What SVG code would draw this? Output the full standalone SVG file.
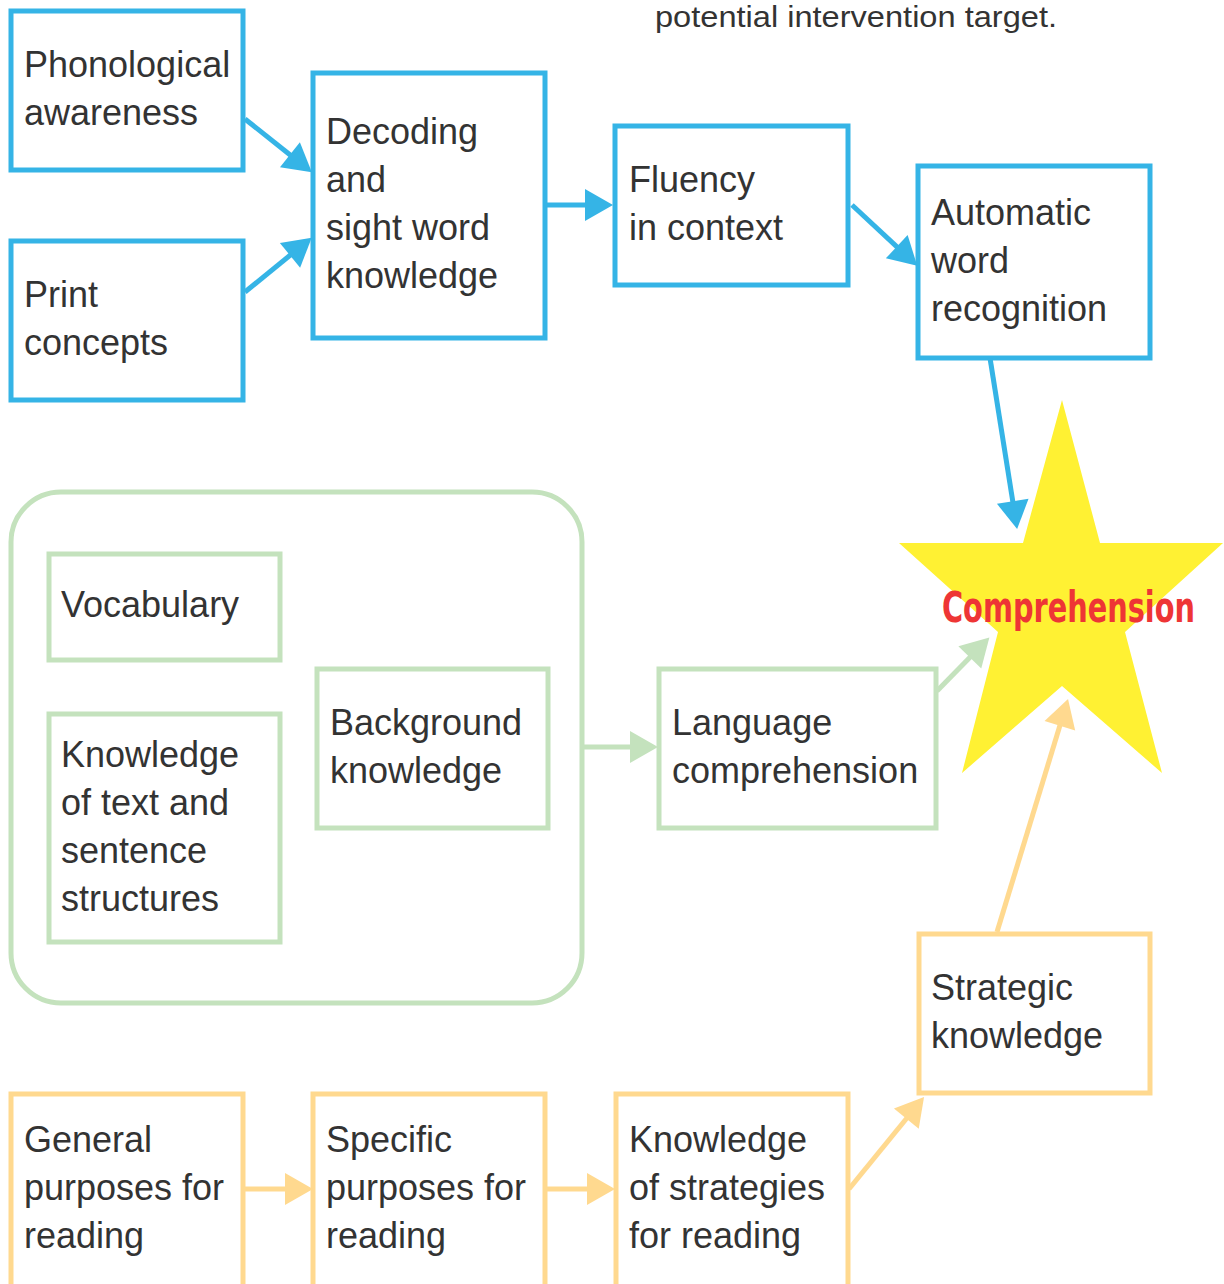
<svg xmlns="http://www.w3.org/2000/svg" width="1224" height="1284" viewBox="0 0 1224 1284">
<style>
.t{font-family:"Liberation Sans",Arial,sans-serif;font-size:36px;fill:#333333}
.b{fill:#ffffff;stroke:#35B4E6;stroke-width:5}
.g{fill:#ffffff;stroke:#C4E2BD;stroke-width:5}
.o{fill:#ffffff;stroke:#FFD98F;stroke-width:5}
.cb{stroke:#35B4E6;stroke-width:5;fill:none}
.cg{stroke:#C4E2BD;stroke-width:5;fill:none}
.co{stroke:#FFD98F;stroke-width:5;fill:none}
</style>
<defs>
<marker id="ab" markerUnits="userSpaceOnUse" markerWidth="30" markerHeight="34" refX="8" refY="16" orient="auto" overflow="visible"><path d="M0,0 L28,16 L0,32 Z" fill="#35B4E6"/></marker>
<marker id="ag" markerUnits="userSpaceOnUse" markerWidth="30" markerHeight="34" refX="8" refY="16" orient="auto" overflow="visible"><path d="M0,0 L28,16 L0,32 Z" fill="#C4E2BD"/></marker>
<marker id="ao" markerUnits="userSpaceOnUse" markerWidth="30" markerHeight="34" refX="8" refY="16" orient="auto" overflow="visible"><path d="M0,0 L28,16 L0,32 Z" fill="#FFD98F"/></marker>
</defs>
<rect width="1224" height="1284" fill="#ffffff"/>

<text id="note" x="655" y="27" style="font-family:'Liberation Sans',Arial,sans-serif;font-size:30px;fill:#333333" textLength="402" lengthAdjust="spacingAndGlyphs">potential intervention target.</text>

<g id="comprehension">
<polygon points="1062,400 1100,543 1223,543 1125,632 1162,773 1062,686 962,773 998,632 899,543 1023,543" fill="#FFF133"/>
<text x="942" y="622" style="font-family:'Liberation Sans Narrow','DejaVu Sans Condensed','Liberation Sans',sans-serif;font-size:42px;font-weight:bold;fill:#EE3535" textLength="253" lengthAdjust="spacingAndGlyphs">Comprehension</text>
</g>

<g id="group-language">
<rect x="11" y="492" width="571" height="511" rx="50" ry="50" fill="none" stroke="#C4E2BD" stroke-width="5"/>
</g>

<g id="phonological"><rect class="b" x="11" y="11" width="232" height="159"/><text class="t" x="24"><tspan x="24" y="77">Phonological</tspan><tspan x="24" y="125">awareness</tspan></text></g>
<g id="print"><rect class="b" x="11" y="241" width="232" height="159"/><text class="t"><tspan x="24" y="307">Print</tspan><tspan x="24" y="355">concepts</tspan></text></g>
<g id="decoding"><rect class="b" x="313" y="73" width="232" height="265"/><text class="t"><tspan x="326" y="144">Decoding</tspan><tspan x="326" y="192">and</tspan><tspan x="326" y="240">sight word</tspan><tspan x="326" y="288">knowledge</tspan></text></g>
<g id="fluency"><rect class="b" x="615" y="126" width="233" height="159"/><text class="t"><tspan x="629" y="192">Fluency</tspan><tspan x="629" y="240">in context</tspan></text></g>
<g id="automatic"><rect class="b" x="918" y="166" width="232" height="192"/><text class="t"><tspan x="931" y="225">Automatic</tspan><tspan x="931" y="273">word</tspan><tspan x="931" y="321">recognition</tspan></text></g>

<g id="vocabulary"><rect class="g" x="49" y="554" width="231" height="106"/><text class="t"><tspan x="61" y="617">Vocabulary</tspan></text></g>
<g id="text-structures"><rect class="g" x="49" y="714" width="231" height="228"/><text class="t"><tspan x="61" y="767">Knowledge</tspan><tspan x="61" y="815">of text and</tspan><tspan x="61" y="863">sentence</tspan><tspan x="61" y="911">structures</tspan></text></g>
<g id="background"><rect class="g" x="317" y="669" width="231" height="159"/><text class="t"><tspan x="330" y="735">Background</tspan><tspan x="330" y="783">knowledge</tspan></text></g>
<g id="language"><rect class="g" x="659" y="669" width="277" height="159"/><text class="t"><tspan x="672" y="735">Language</tspan><tspan x="672" y="783">comprehension</tspan></text></g>

<g id="strategic"><rect class="o" x="919" y="934" width="231" height="159"/><text class="t"><tspan x="931" y="1000">Strategic</tspan><tspan x="931" y="1048">knowledge</tspan></text></g>
<g id="general"><rect class="o" x="11" y="1094" width="232" height="200"/><text class="t"><tspan x="24" y="1152">General</tspan><tspan x="24" y="1200">purposes for</tspan><tspan x="24" y="1248">reading</tspan></text></g>
<g id="specific"><rect class="o" x="313" y="1094" width="232" height="200"/><text class="t"><tspan x="326" y="1152">Specific</tspan><tspan x="326" y="1200">purposes for</tspan><tspan x="326" y="1248">reading</tspan></text></g>
<g id="strategies"><rect class="o" x="616" y="1094" width="232" height="200"/><text class="t"><tspan x="629" y="1152">Knowledge</tspan><tspan x="629" y="1200">of strategies</tspan><tspan x="629" y="1248">for reading</tspan></text></g>

<g id="connectors">
<line class="cb" x1="245" y1="119" x2="296.2" y2="159.7" marker-end="url(#ab)"/>
<line class="cb" x1="245" y1="292" x2="296.2" y2="250.3" marker-end="url(#ab)"/>
<line class="cb" x1="545" y1="205" x2="593" y2="205" marker-end="url(#ab)"/>
<line class="cb" x1="852" y1="205" x2="902.6" y2="252.1" marker-end="url(#ab)"/>
<line class="cb" x1="990" y1="358" x2="1014" y2="509.2" marker-end="url(#ab)"/>
<line class="cg" x1="583" y1="747" x2="638" y2="747" marker-end="url(#ag)"/>
<line class="cg" x1="937" y1="691" x2="975.4" y2="651.7" marker-end="url(#ag)"/>
<line class="co" x1="997" y1="932" x2="1062.2" y2="718.1" marker-end="url(#ao)"/>
<line class="co" x1="243" y1="1189" x2="293" y2="1189" marker-end="url(#ao)"/>
<line class="co" x1="545" y1="1189" x2="595" y2="1189" marker-end="url(#ao)"/>
<line class="co" x1="849" y1="1189" x2="911.4" y2="1112.5" marker-end="url(#ao)"/>
</g>
</svg>
